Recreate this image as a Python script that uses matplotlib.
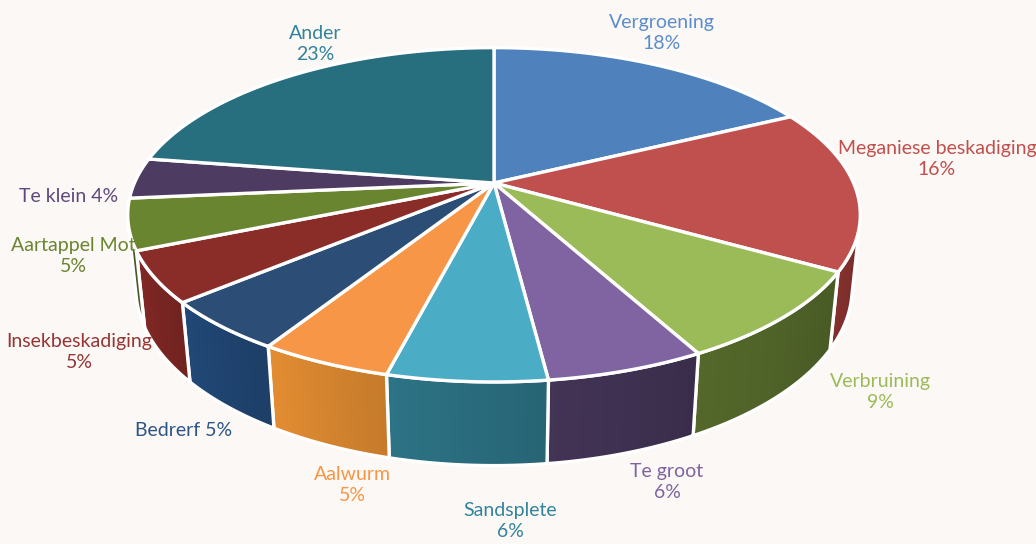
import numpy as np
import matplotlib.pyplot as plt
from matplotlib.patches import Polygon
from matplotlib.colors import to_rgb

# ================= data =================
labels = ['Vergroening', 'Meganiese beskadiging', 'Verbruining', 'Te groot',
          'Sandsplete', 'Aalwurm', 'Bedrerf', 'Insekbeskadiging',
          'Aartappel Mot', 'Te klein', 'Ander']
values = [18, 16, 9, 6, 6, 5, 5, 5, 5, 4, 23]
colors = ['#4f81bd', '#c0504d', '#9bbb59', '#8064a2', '#4bacc6', '#f79646',
          '#2c4d75', '#8a2c28', '#6a8530', '#4d3b62', '#276f7e']
side_colors = ['#3a6090', '#7e2e2b', '#4f6228', '#3f3151', '#2a6d7e', '#d6852f',
               '#1f4470', '#7a2623', '#4a5c24', '#3a2c4a', '#1d5460']
label_colors = ['#5b8dcc', '#c0504d', '#9bbb59', '#8064a2', '#31849b', '#f79646',
                '#2c5585', '#943634', '#6a8530', '#5f497a', '#31849b']
label_text = ['Vergroening\n18%', 'Meganiese beskadiging\n16%', 'Verbruining\n9%',
              'Te groot\n6%', 'Sandsplete\n6%', 'Aalwurm\n5%', 'Bedrerf 5%',
              'Insekbeskadiging\n5%', 'Aartappel Mot\n5%', 'Te klein 4%', 'Ander\n23%']

# label anchor (pixel) positions, layout only
label_pos = [(662, 33), (937, 159), (880, 392), (667, 482), (510, 521), (352, 485),
             (184, 430), (79, 352), (73, 256), (69, 196), (315, 44)]

# ================= camera / projection =================
CX, CY = 494, 183          # image position of pie centre
ELEV = np.arcsin(0.448)
DIST = 4.70
FOCAL = 1690
HEIGHT = 0.23
BG = '#fcf8f5'

cam = np.array([0.0, -DIST * np.cos(ELEV), DIST * np.sin(ELEV)])
fwd = np.array([0.0, np.cos(ELEV), -np.sin(ELEV)])
up = np.array([0.0, np.sin(ELEV), np.cos(ELEV)])


def project(x, y, z):
    p = np.stack([x, y, z], axis=-1) - cam
    depth = p @ fwd
    sx = FOCAL * p[..., 0] / depth
    sy = FOCAL * (p @ up) / depth
    return CX + sx, CY - sy


def shade(c, f):
    r, g, b = to_rgb(c)
    return (min(r * f, 1), min(g * f, 1), min(b * f, 1))


fig = plt.figure(figsize=(10.36, 5.44), dpi=100)
fig.patch.set_facecolor(BG)
ax = fig.add_axes([0, 0, 1, 1])
ax.set_xlim(0, 1036)
ax.set_ylim(544, 0)
ax.axis('off')

fracs = np.array(values, dtype=float) / sum(values)
bounds = np.concatenate([[0], np.cumsum(fracs)]) * 2 * np.pi

# side is visible where the outward normal faces the camera
vis_lim = -1.0 / (DIST * np.cos(ELEV))

# side walls
for i, col in enumerate(side_colors):
    th = np.linspace(bounds[i], bounds[i + 1], 200)
    th = th[np.cos(th) < vis_lim]
    if len(th) < 2:
        continue
    xs, ys = np.sin(th), np.cos(th)
    tx, ty = project(xs, ys, np.zeros_like(xs))
    bx, by = project(xs, ys, -HEIGHT * np.ones_like(xs))
    n = len(th) - 1
    for k in range(n):
        f = 0.92 + 0.14 * k / max(n, 1)
        quad = [(tx[k], ty[k]), (tx[k + 1], ty[k + 1]), (bx[k + 1], by[k + 1]), (bx[k], by[k])]
        ax.add_patch(Polygon(quad, closed=True, fc=shade(col, f), ec=shade(col, f), lw=0.6))
    outline = list(zip(tx, ty)) + list(zip(bx[::-1], by[::-1]))
    ax.add_patch(Polygon(outline, closed=True, fc='none', ec='white', lw=2.4, joinstyle='round'))

# top faces
ox, oy = project(np.array(0.0), np.array(0.0), np.array(0.0))
for i, col in enumerate(colors):
    th = np.linspace(bounds[i], bounds[i + 1], 200)
    xs, ys = np.sin(th), np.cos(th)
    tx, ty = project(xs, ys, np.zeros_like(xs))
    pts = [(float(ox), float(oy))] + list(zip(tx, ty))
    ax.add_patch(Polygon(pts, closed=True, fc=col, ec='white', lw=2.4, joinstyle='round'))

plt.rcParams['font.family'] = ['Lato', 'DejaVu Sans']
for txt, (x, y), col in zip(label_text, label_pos, label_colors):
    ax.text(x, y, txt, color=col, fontsize=14, ha='center', va='center',
            linespacing=1.3, multialignment='center')

fig.savefig('out.png', dpi=100, facecolor=BG)
